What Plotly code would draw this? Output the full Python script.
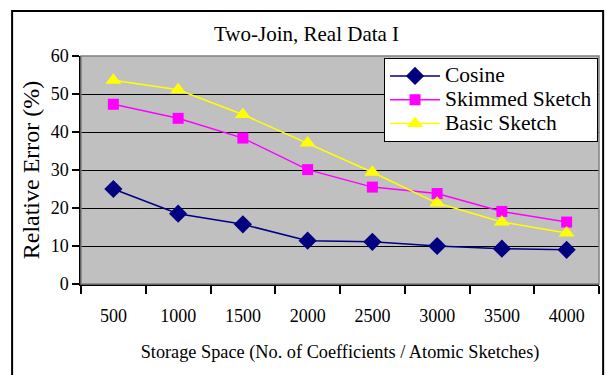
import plotly.graph_objects as go

# Storage budgets (number of coefficients / atomic sketches)
storage = ["500", "1000", "1500", "2000", "2500", "3000", "3500", "4000"]

# Relative error (%) for each method
cosine = [25.0, 18.5, 15.7, 11.4, 11.1, 10.0, 9.3, 9.0]
skimmed_sketch = [47.3, 43.6, 38.4, 30.1, 25.5, 23.8, 19.1, 16.3]
basic_sketch = [53.6, 51.1, 44.6, 37.1, 29.4, 21.3, 16.3, 13.4]

SERIF = "Liberation Serif, Times New Roman, serif"


def legend_label(text):
    # Larger glyphs than the legend row height would normally allow
    return f"<span style='font-size:21.5px'>{text}</span>"


fig = go.Figure()
fig.add_trace(go.Scatter(
    x=storage, y=cosine, name=legend_label("Cosine"), mode="lines+markers",
    line=dict(color="#000080", width=1.5),
    marker=dict(symbol="diamond", size=14, color="#000080"),
))
fig.add_trace(go.Scatter(
    x=storage, y=skimmed_sketch, name=legend_label("Skimmed Sketch"),
    mode="lines+markers",
    line=dict(color="#FF00FF", width=1.5),
    marker=dict(symbol="square", size=11, color="#FF00FF"),
))
fig.add_trace(go.Scatter(
    x=storage, y=basic_sketch, name=legend_label("Basic Sketch"),
    mode="lines+markers",
    line=dict(color="#FFFF00", width=1.5),
    marker=dict(symbol="triangle-up", size=14, color="#FFFF00"),
))

# Outer chart frame and plot-area edge
fig.add_shape(type="rect", xref="paper", yref="paper",
              x0=-0.133, x1=1.008, y0=-0.45, y1=1.197,
              line=dict(color="#000000", width=2), layer="below")
fig.add_shape(type="rect", xref="paper", yref="paper",
              x0=0, x1=1, y0=0, y1=1,
              line=dict(color="#808080", width=1.5), layer="above")

fig.update_layout(
    width=607, height=375,
    margin=dict(l=81, r=8, t=56, b=91),
    paper_bgcolor="white",
    plot_bgcolor="#C0C0C0",
    font=dict(family=SERIF, color="black", size=17),
    title=dict(text="Two-Join, Real Data I", x=0.505, xanchor="center",
               y=1 - 34 / 375, yref="container", yanchor="middle",
               font=dict(family=SERIF, size=21, color="black")),
    showlegend=True,
    legend=dict(x=0.585, y=0.991, xanchor="left", yanchor="top",
                bgcolor="white", bordercolor="black", borderwidth=1,
                font=dict(family=SERIF, size=16, color="black"),
                tracegroupgap=0, itemwidth=50),
    xaxis=dict(
        type="category", range=[-0.5, 7.5],
        showgrid=False, tickson="boundaries",
        ticks="outside", ticklen=8, tickcolor="black", tickwidth=1.5,
        showline=True, linecolor="black", linewidth=1.5,
        tickfont=dict(family=SERIF, size=18),
        ticklabelstandoff=15,
        title=dict(text="Storage Space (No. of Coefficients / Atomic Sketches)",
                   font=dict(family=SERIF, size=18.3), standoff=20),
    ),
    yaxis=dict(
        range=[0, 60], dtick=10,
        showgrid=True, gridcolor="black", gridwidth=1,
        zeroline=False,
        ticks="outside", ticklen=7, tickcolor="black", tickwidth=1.5,
        showline=True, linecolor="black", linewidth=1.5,
        tickfont=dict(family=SERIF, size=18),
        title=dict(text="Relative Error (%)",
                   font=dict(family=SERIF, size=24), standoff=4),
    ),
)

fig.write_html("out.html")
